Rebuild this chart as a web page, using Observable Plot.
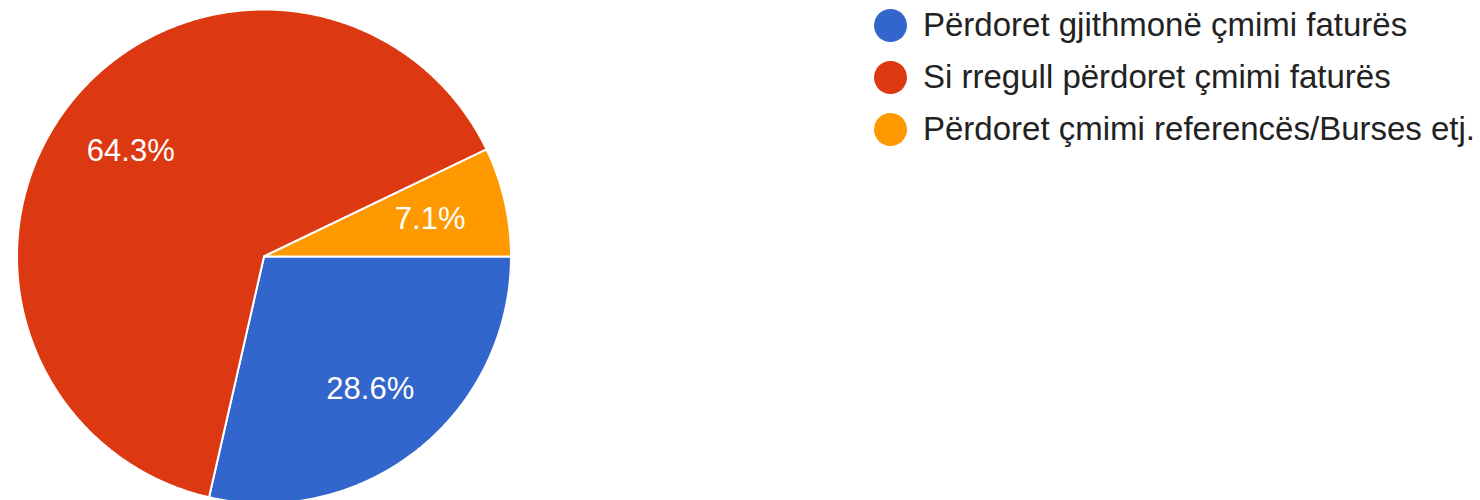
<!DOCTYPE html>
<html>
<head>
<meta charset="utf-8">
<script src="https://cdn.jsdelivr.net/npm/d3@7"></script>
<script src="https://cdn.jsdelivr.net/npm/@observablehq/plot@0.6"></script>
<style>
  body { margin: 0; background: #fff; }
  #wrap { position: relative; width: 1480px; height: 500px; overflow: hidden; font-family: "Liberation Sans", Arial, sans-serif; }
  #chart { position: absolute; left: 0; top: 0; }
  #legend { position: absolute; left: 874px; top: -1px; }
  .row { display: flex; align-items: center; height: 52px; }
  .sw { width: 33px; height: 33px; border-radius: 50%; flex: none; }
  .lab { margin-left: 16px; font-size: 33px; color: #222; white-space: nowrap; }
</style>
</head>
<body>
<div id="wrap"><div id="chart"></div><div id="legend"></div></div>
<script>
const categories = ["Përdoret gjithmonë çmimi faturës", "Si rregull përdoret çmimi faturës", "Përdoret çmimi referencës/Burses etj."];
const counts = [4, 9, 1];
const colors = ["#3366cc", "#dc3912", "#ff9900"];

const total = d3.sum(counts);
const arcs = d3.pie().sort(null).startAngle(Math.PI / 2).endAngle(Math.PI / 2 + 2 * Math.PI)(counts);

// outline of each slice in unit-circle data space
function slicePoints(a) {
  const pts = [{x: 0, y: 0}];
  const n = Math.max(2, Math.ceil((a.endAngle - a.startAngle) / (Math.PI / 360)));
  for (let i = 0; i <= n; i++) {
    const t = a.startAngle + (a.endAngle - a.startAngle) * i / n;
    pts.push({x: Math.sin(t), y: Math.cos(t)});
  }
  pts.push({x: 0, y: 0});
  return pts;
}

const labels = arcs.map((a, i) => {
  const m = (a.startAngle + a.endAngle) / 2;
  return {x: 0.69 * Math.sin(m), y: 0.685 * Math.cos(m), text: (counts[i] / total * 100).toFixed(1) + "%"};
});

const cx = 263.5, cy = 256, r = 247, W = 530, H = 500;

const plot = Plot.plot({
  width: W, height: H,
  margin: 0,
  x: {domain: [-cx / r, (W - cx) / r], axis: null},
  y: {domain: [-(H - cy) / r, cy / r], axis: null},
  style: {background: "transparent"},
  marks: [
    ...arcs.map((a, i) => Plot.line(slicePoints(a), {x: "x", y: "y", fill: colors[i], stroke: "#fff", strokeWidth: 2, strokeLinejoin: "round"})),
    Plot.text(labels, {x: "x", y: "y", text: "text", fill: "#fff", fontSize: 31, fontFamily: "Liberation Sans, Arial, sans-serif"})
  ]
});
document.getElementById("chart").appendChild(plot);

const legend = document.getElementById("legend");
categories.forEach((c, i) => {
  const row = document.createElement("div");
  row.className = "row";
  const sw = document.createElement("div");
  sw.className = "sw";
  sw.style.background = colors[i];
  const lab = document.createElement("div");
  lab.className = "lab";
  lab.textContent = c;
  row.appendChild(sw);
  row.appendChild(lab);
  legend.appendChild(row);
});
</script>
</body>
</html>
